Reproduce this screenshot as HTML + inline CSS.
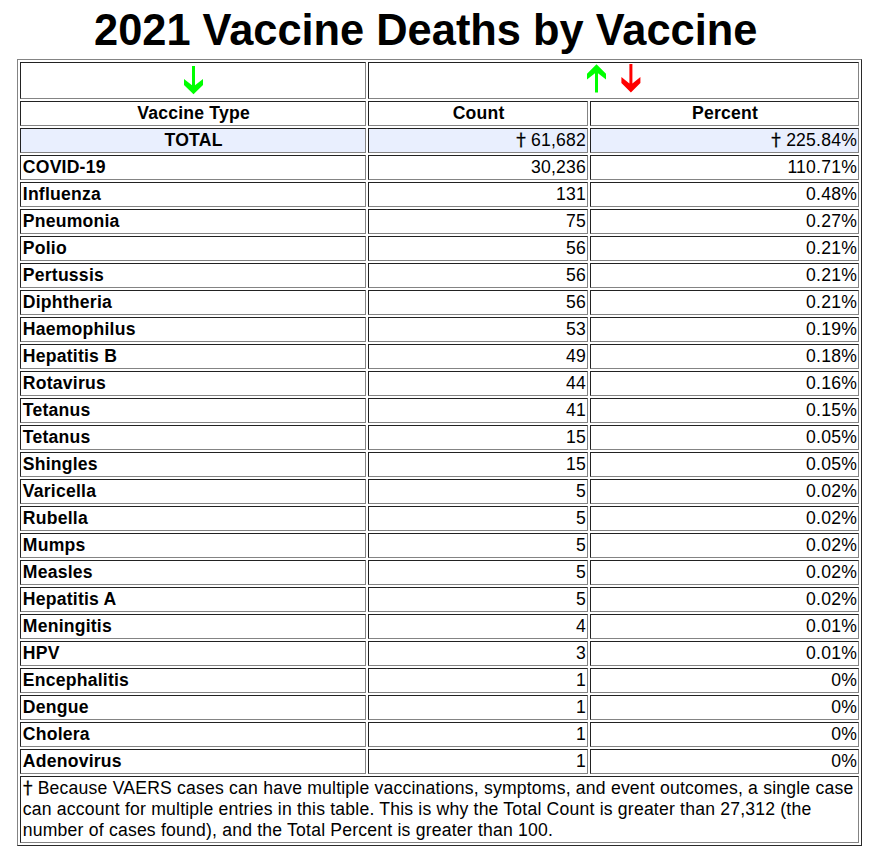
<!DOCTYPE html>
<html><head><meta charset="utf-8"><title>2021 Vaccine Deaths by Vaccine</title>
<style>
html,body{margin:0;padding:0;background:#fff;}
body{width:878px;height:849px;overflow:hidden;position:relative;font-family:"Liberation Sans",Arial,sans-serif;font-size:17.6px;color:#000;}
h1{position:absolute;left:0.7px;top:1px;width:850px;margin:0;text-align:center;font-size:43.4px;line-height:58px;font-weight:bold;white-space:nowrap;letter-spacing:0px;transform:scaleY(1.035);transform-origin:0 44px;}
#arr{position:absolute;left:0;top:0;}
table{position:absolute;left:17px;top:59px;width:845px;border-collapse:separate;border-spacing:2px;border:1px solid;border-color:#848484 #2a2a2a #2a2a2a #848484;table-layout:fixed;}
td{border:1px solid;border-color:#222 #848484 #848484 #222;padding:1px;line-height:21px;height:21px;white-space:nowrap;overflow:hidden;}
td.n{font-weight:bold;text-align:left;padding-left:1.8px;letter-spacing:0.22px;}
td.r{text-align:right;letter-spacing:0.2px;}
td.h{font-weight:bold;text-align:center;padding-left:2.2px;letter-spacing:0.22px;}
span.dg{font-family:"Noto Sans CJK JP","Liberation Sans",sans-serif;line-height:0;display:inline-block;width:9.8px;text-align:left;text-indent:-3.9px;letter-spacing:0;white-space:nowrap;-webkit-text-stroke:0.3px #000;}
tr.tot td{background:#e9effe;}
tr.arr td{height:33px;}
td.foot{padding-left:1.8px;white-space:nowrap;line-height:21px;height:auto;letter-spacing:0.2px;}
</style></head><body>
<h1>2021 Vaccine Deaths by Vaccine</h1>
<table>
<colgroup><col style="width:346px"><col style="width:220px"><col style="width:269px"></colgroup>
<tr class="arr"><td></td><td colspan="2"></td></tr>
<tr><td class="h">Vaccine Type</td><td class="h">Count</td><td class="h">Percent</td></tr>
<tr class="tot"><td class="h">TOTAL</td><td class="r"><span class="dg">&dagger;</span> 61,682</td><td class="r"><span class="dg">&dagger;</span> 225.84%</td></tr>
<tr><td class="n">COVID-19</td><td class="r">30,236</td><td class="r">110.71%</td></tr>
<tr><td class="n">Influenza</td><td class="r">131</td><td class="r">0.48%</td></tr>
<tr><td class="n">Pneumonia</td><td class="r">75</td><td class="r">0.27%</td></tr>
<tr><td class="n">Polio</td><td class="r">56</td><td class="r">0.21%</td></tr>
<tr><td class="n">Pertussis</td><td class="r">56</td><td class="r">0.21%</td></tr>
<tr><td class="n">Diphtheria</td><td class="r">56</td><td class="r">0.21%</td></tr>
<tr><td class="n">Haemophilus</td><td class="r">53</td><td class="r">0.19%</td></tr>
<tr><td class="n">Hepatitis B</td><td class="r">49</td><td class="r">0.18%</td></tr>
<tr><td class="n">Rotavirus</td><td class="r">44</td><td class="r">0.16%</td></tr>
<tr><td class="n">Tetanus</td><td class="r">41</td><td class="r">0.15%</td></tr>
<tr><td class="n">Tetanus</td><td class="r">15</td><td class="r">0.05%</td></tr>
<tr><td class="n">Shingles</td><td class="r">15</td><td class="r">0.05%</td></tr>
<tr><td class="n">Varicella</td><td class="r">5</td><td class="r">0.02%</td></tr>
<tr><td class="n">Rubella</td><td class="r">5</td><td class="r">0.02%</td></tr>
<tr><td class="n">Mumps</td><td class="r">5</td><td class="r">0.02%</td></tr>
<tr><td class="n">Measles</td><td class="r">5</td><td class="r">0.02%</td></tr>
<tr><td class="n">Hepatitis A</td><td class="r">5</td><td class="r">0.02%</td></tr>
<tr><td class="n">Meningitis</td><td class="r">4</td><td class="r">0.01%</td></tr>
<tr><td class="n">HPV</td><td class="r">3</td><td class="r">0.01%</td></tr>
<tr><td class="n">Encephalitis</td><td class="r">1</td><td class="r">0%</td></tr>
<tr><td class="n">Dengue</td><td class="r">1</td><td class="r">0%</td></tr>
<tr><td class="n">Cholera</td><td class="r">1</td><td class="r">0%</td></tr>
<tr><td class="n">Adenovirus</td><td class="r">1</td><td class="r">0%</td></tr>
<tr><td colspan="3" class="foot"><span class="dg">&dagger;</span> Because VAERS cases can have multiple vaccinations, symptoms, and event outcomes, a single case<br>can account for multiple entries in this table. This is why the Total Count is greater than 27,312 (the<br>number of cases found), and the Total Percent is greater than 100.</td></tr>
</table>
<svg id="arr" width="878" height="100" viewBox="0 0 878 100"><polygon fill="#00ff00" points="193.50,94.30 203.00,84.90 203.00,79.00 195.00,85.30 195.00,66.00 192.00,66.00 192.00,85.30 184.00,79.00 184.00,84.90"/><polygon fill="#00ff00" points="596.50,64.30 606.00,73.70 606.00,79.60 598.00,73.30 598.00,92.60 595.00,92.60 595.00,73.30 587.00,79.60 587.00,73.70"/><polygon fill="#ff0000" points="630.90,92.40 640.40,83.00 640.40,77.10 632.40,83.40 632.40,64.10 629.40,64.10 629.40,83.40 621.40,77.10 621.40,83.00"/></svg>
</body></html>
